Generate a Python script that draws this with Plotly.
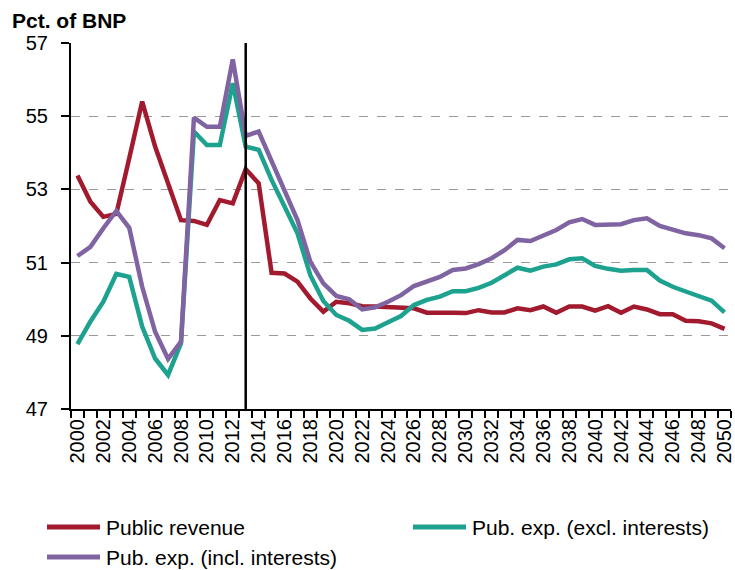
import plotly.graph_objects as go

years = list(range(2000, 2051))

public_revenue = [53.38, 52.66, 52.25, 52.33, 53.85, 55.40, 54.17, 53.17, 52.16, 52.14,
                  52.03, 52.71, 52.62, 53.55, 53.17, 50.72, 50.70, 50.48, 50.02, 49.66,
                  49.93, 49.89, 49.81, 49.80, 49.78, 49.77, 49.75, 49.63, 49.64, 49.63,
                  49.62, 49.70, 49.64, 49.64, 49.75, 49.70, 49.80, 49.63, 49.80, 49.80,
                  49.69, 49.81, 49.63, 49.80, 49.72, 49.59, 49.59, 49.41, 49.40, 49.34,
                  49.19]

pub_exp_excl = [48.77, 49.39, 49.93, 50.69, 50.61, 49.25, 48.38, 47.93, 48.80, 54.58,
                54.21, 54.21, 55.90, 54.17, 54.08, 53.26, 52.53, 51.80, 50.65, 49.95,
                49.57, 49.41, 49.16, 49.20, 49.37, 49.54, 49.84, 49.98, 50.07, 50.22,
                50.22, 50.31, 50.45, 50.66, 50.86, 50.78, 50.89, 50.95, 51.09, 51.12,
                50.91, 50.83, 50.78, 50.80, 50.80, 50.51, 50.34, 50.21, 50.10, 49.96,
                49.64]

pub_exp_incl = [51.18, 51.43, 51.94, 52.41, 51.95, 50.34, 49.11, 48.37, 48.84, 54.96,
                54.71, 54.71, 56.55, 54.46, 54.58, 53.76, 52.98, 52.16, 51.02, 50.43,
                50.09, 50.00, 49.72, 49.78, 49.93, 50.11, 50.36, 50.48, 50.61, 50.80,
                50.84, 50.96, 51.12, 51.34, 51.62, 51.59, 51.75, 51.89, 52.10, 52.19,
                52.03, 52.03, 52.05, 52.16, 52.21, 52.00, 51.91, 51.80, 51.75, 51.66,
                51.39]

series_names = ["Public revenue", "Pub. exp. (excl. interests)", "Pub. exp. (incl. interests)"]
y_tick_vals = [47, 49, 51, 53, 55, 57]
x_tick_vals = list(range(2000, 2051, 2))
split_year = 2013

colors = ["#A11A2E", "#1DA28F", "#8064A2"]
FONT = "Liberation Sans, Arial, sans-serif"

W, H = 735, 570
ML, MR, MT, MB = 71, 4, 43, 161
PW, PH = W - ML - MR, H - MT - MB


def px_x(px):
    return (px - ML) / PW


def px_y(py):
    return (H - MB - py) / PH


fig = go.Figure()
for name, vals, col in zip(series_names, [public_revenue, pub_exp_excl, pub_exp_incl], colors):
    fig.add_trace(go.Scatter(x=years, y=vals, mode="lines", name=name,
                             line=dict(color=col, width=4.5), showlegend=False))

fig.add_shape(type="line", xref="x", yref="paper", x0=split_year, x1=split_year,
              y0=0, y1=1, line=dict(color="black", width=2.5))

# Legend (drawn manually to match the reference layout)
legend_items = [(47, 527), (413, 527), (47, 557)]
for (lx, ly), name, col in zip(legend_items, series_names, colors):
    fig.add_shape(type="line", xref="paper", yref="paper",
                  x0=px_x(lx), x1=px_x(lx + 53), y0=px_y(ly), y1=px_y(ly),
                  line=dict(color=col, width=5))
    fig.add_annotation(xref="paper", yref="paper", x=px_x(lx + 57), y=px_y(ly),
                       xanchor="left", yanchor="middle", showarrow=False,
                       text=name, font=dict(family=FONT, size=21, color="black"))

fig.update_layout(
    width=W, height=H,
    margin=dict(l=ML, r=MR, t=MT, b=MB, autoexpand=False),
    paper_bgcolor="white", plot_bgcolor="white",
    font=dict(family=FONT, color="black", size=20),
    title=dict(text="<b>Pct. of BNP</b>", xref="container", yref="container",
               x=12 / W, xanchor="left", y=1 - 21 / H, yanchor="middle",
               font=dict(family=FONT, size=21, color="black")),
    showlegend=False,
    xaxis=dict(range=[1999.5, 2050.5], tickmode="array", tickvals=x_tick_vals,
               ticktext=[str(v) for v in x_tick_vals], tickangle=-90,
               ticks="outside", ticklen=0, showgrid=False, zeroline=False,
               showline=True, linecolor="black", linewidth=2, automargin=False,
               ticklabeloverflow="allow",
               tickfont=dict(family=FONT, size=20, color="black"),
               minor=dict(tick0=1999.5, dtick=1, ticks="outside", ticklen=7,
                          tickwidth=2, tickcolor="black", showgrid=False)),
    yaxis=dict(range=[47, 57], tickmode="array", tickvals=y_tick_vals,
               ticks="outside", ticklen=8, tickwidth=2, tickcolor="black",
               showline=True, linecolor="black", linewidth=2, zeroline=False,
               showgrid=True, gridcolor="#9A9A9A", griddash="dash", gridwidth=1,
               ticklabelstandoff=9, automargin=False,
               tickfont=dict(family=FONT, size=20, color="black")),
)

fig.write_html("out.html", config={"displayModeBar": False},
               post_script="document.body.style.margin='0px';document.body.style.padding='0px';")
